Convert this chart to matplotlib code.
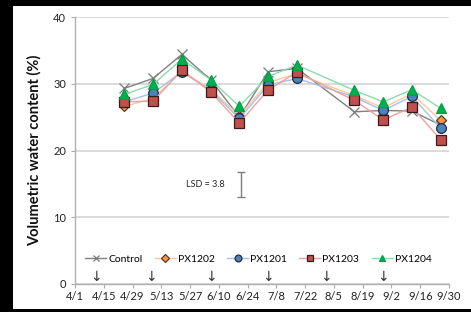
import datetime as dt
import matplotlib
matplotlib.use("Agg")
import matplotlib.pyplot as plt
from matplotlib.patches import Rectangle

plt.rcParams['font.family'] = ['Lato', 'DejaVu Sans']

# sampling dates (every two weeks, with one gap)
dates = ["4/25", "5/9", "5/23", "6/6", "6/20", "7/4", "7/18", "8/15", "8/29", "9/12", "9/26"]
control = [29.3, 30.8, 34.4, 30.6, 25.0, 31.8, 32.3, 25.8, 26.0, 25.9, 23.8]
px1202 = [26.6, 27.8, 31.9, 29.2, 25.2, 30.2, 31.5, 28.2, 26.4, 28.5, 24.5]
px1201 = [27.3, 28.6, 31.8, 29.0, 24.8, 29.8, 30.8, 28.0, 26.0, 28.1, 23.3]
px1203 = [27.3, 27.4, 32.0, 28.8, 24.1, 29.1, 31.7, 27.5, 24.6, 26.5, 21.6]
px1204 = [28.4, 29.9, 33.7, 30.6, 26.6, 31.1, 32.8, 29.0, 27.3, 29.1, 26.3]

tick_dates = ["4/1", "4/15", "4/29", "5/13", "5/27", "6/10", "6/24", "7/8",
              "7/22", "8/5", "8/19", "9/2", "9/16", "9/30"]
arrow_dates = ["4/11", "5/8", "6/6", "7/4", "8/1", "8/29"]
lsd = 3.8
lsd_date = "6/21"
lsd_mid = 14.9


def to_date(s):
    m, d = s.split("/")
    return dt.date(2013, int(m), int(d))


x = [to_date(s) for s in dates]

fig = plt.figure(figsize=(4.71, 3.12), dpi=100, facecolor="black")
fig.patches.append(Rectangle((13 / 471, 3 / 312), 1, 1 - 9 / 312,
                             transform=fig.transFigure, facecolor="white",
                             edgecolor="none", zorder=-10))
ax = fig.add_axes([75 / 471, 1 - 284 / 312, 374 / 471, 267 / 312])
ax.set_zorder(5)

series = [
    ("Control", control, "#808080", "x", "#7a7a7a", "#7a7a7a"),
    ("PX1202", px1202, "#fcc89e", "D", "#f79646", "#5a3a20"),
    ("PX1201", px1201, "#a7c1e6", "o", "#4f81bd", "#1f2f45"),
    ("PX1203", px1203, "#eaa3a1", "s", "#c0504d", "#3a1a1a"),
    ("PX1204", px1204, "#8adcaa", "^", "#00b050", "#00a040"),
]
for name, vals, lc, mk, fc, ec in series:
    ms = 7 if mk != "D" else 5.5
    ax.plot(x, vals, color=lc, lw=1.0, marker=mk, markersize=ms,
            markerfacecolor=fc, markeredgecolor=ec, markeredgewidth=0.9,
            label=name)

# LSD bar
ax.errorbar([to_date(lsd_date)], [lsd_mid], yerr=lsd / 2, color="#7f7f7f",
            capsize=3, lw=1.0, capthick=1.0)
ax.text(to_date("6/21") - dt.timedelta(days=8), lsd_mid, "LSD = 3.8",
        ha="right", va="center", fontsize=6.5, color="#222222")

# irrigation arrows
for a in arrow_dates:
    ax.text(to_date(a), 1.0, "\u2193", ha="center", va="center",
            fontsize=10, color="#333333", family=["DejaVu Sans"])

ax.set_xlim(to_date("4/1"), to_date("9/30"))
ax.set_ylim(0, 40)
ax.set_yticks([0, 10, 20, 30, 40])
ax.set_xticks([to_date(s) for s in tick_dates])
ax.set_xticklabels(tick_dates)
ax.tick_params(axis="both", labelsize=8, colors="#222222", length=3,
               width=0.8)
ax.tick_params(axis="x", pad=2)
ax.tick_params(axis="both", color="#aaaaaa")
ax.grid(axis="y", color="#d4d4d4", lw=1.2)
ax.set_axisbelow(True)
for s in ["top", "right"]:
    ax.spines[s].set_visible(False)
for s in ["left", "bottom"]:
    ax.spines[s].set_color("#b0b0b0")
    ax.spines[s].set_linewidth(1.0)

ax.set_ylabel("Volumetric water content (%)", fontsize=10.5,
              fontweight="bold", color="#111111", labelpad=8)

ax.legend(loc="lower center", bbox_to_anchor=(0.49, 0.06), ncol=5,
          frameon=False, fontsize=7.5, handlelength=2.0, handletextpad=0.2,
          columnspacing=1.2, borderaxespad=0, markerscale=0.7)

fig.savefig("out.png", dpi=100, facecolor="black")
